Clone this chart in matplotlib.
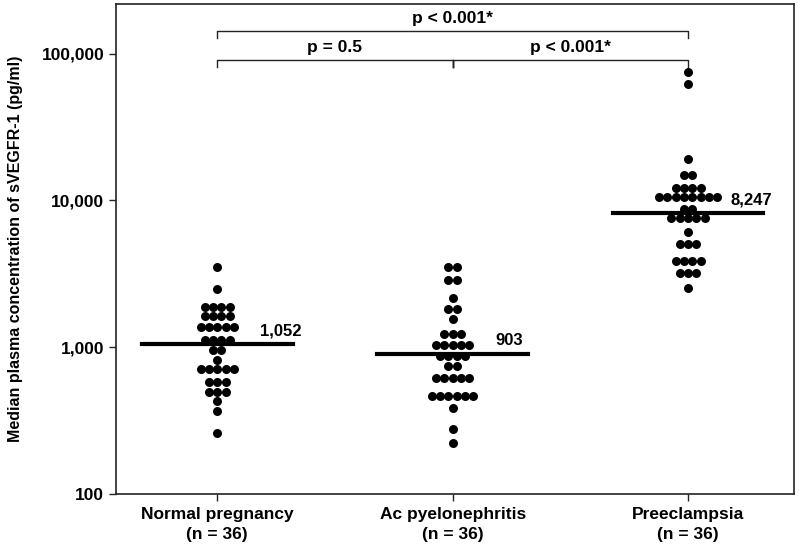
import matplotlib.pyplot as plt
import numpy as np
from matplotlib.transforms import blended_transform_factory

plt.rcParams['font.family'] = ['Liberation Sans', 'DejaVu Sans']
plt.rcParams['font.weight'] = 'bold'

# Grupos e valores (pg/ml)
groups = ['Normal pregnancy\n(n = 36)', 'Ac pyelonephritis\n(n = 36)', 'Preeclampsia\n(n = 36)']

normal = [3540, 2490,
          1890, 1890, 1890, 1890,
          1620, 1620, 1620, 1620,
          1370, 1370, 1370, 1370, 1370,
          1120, 1120, 1120, 1120,
          960, 960,
          820,
          710, 710, 710, 710, 710,
          583, 583, 583,
          498, 498, 498,
          432, 366, 262]

pyelo = [3540, 3540,
         2880, 2880,
         2180,
         1820, 1820,
         1550,
         1230, 1230, 1230,
         1040, 1040, 1040, 1040, 1040,
         872, 872, 872, 872,
         746, 746,
         620, 620, 620, 620, 620,
         468, 468, 468, 468, 468, 468,
         386, 276, 222]

preecl = [74900, 62100, 19100,
          14900, 14900,
          12250, 12250, 12250, 12250,
          10630, 10630, 10630, 10630, 10630, 10630, 10630, 10630,
          8720, 8720,
          7570, 7570, 7570, 7570, 7570,
          6140,
          5060, 5060, 5060,
          3890, 3890, 3890, 3890,
          3225, 3225, 3225,
          2525]

medians = [1052, 903, 8247]
median_labels = ['1,052', '903', '8,247']

# p-valores: (x1, x2, texto, nível)
comparisons = [(0, 2, 'p < 0.001*', 0.945),
               (0, 1, 'p = 0.5', 0.886),
               (1, 2, 'p < 0.001*', 0.886)]

fig = plt.figure(figsize=(8, 5.46), dpi=100)
ax = fig.add_axes([0.145, 0.0952, 0.8475, 0.8975])

ax.set_yscale('log')
ax.set_ylim(100, 218000)
ax.set_xlim(-0.43, 2.45)

dx = 0.0353  # espaçamento horizontal entre pontos da mesma linha
for i, vals in enumerate([normal, pyelo, preecl]):
    vals = np.array(vals)
    for v in np.unique(vals):
        n = np.sum(vals == v)
        xs = i + (np.arange(n) - (n - 1) / 2) * dx
        ax.scatter(xs, [v] * n, s=42, color='black', zorder=3, linewidths=0)
    ax.plot([i - 0.32, i + 0.32], [medians[i], medians[i]], color='black', lw=3.0, zorder=4)
    ax.annotate(median_labels[i], (i + 0.18, medians[i]), xytext=(0, 4),
                textcoords='offset points', fontsize=12, fontweight='bold',
                ha='left', va='bottom')

# Colchetes de significância
trans = blended_transform_factory(ax.transData, ax.transAxes)
for x1, x2, txt, lev in comparisons:
    ax.plot([x1, x1, x2, x2], [lev - 0.015, lev, lev, lev - 0.015], color='#222222',
            lw=1.0, transform=trans, clip_on=False)
    ax.text((x1 + x2) / 2, lev + 0.010, txt, transform=trans, ha='center', va='bottom',
            fontsize=12.5, fontweight='bold')
ax.plot([1, 1], [0.886 - 0.015, 0.886], color='#222222', lw=1.0, transform=trans)

ax.set_yticks([100, 1000, 10000, 100000])
ax.set_yticklabels(['100', '1,000', '10,000', '100,000'])
ax.minorticks_off()
ax.set_xticks([0, 1, 2])
ax.set_xticklabels(groups, linespacing=1.45)
ax.tick_params(axis='both', labelsize=12.5, length=5, width=1.0, color='#222222')
ax.tick_params(axis='x', pad=4)
for sp in ax.spines.values():
    sp.set_linewidth(1.2)
    sp.set_color('#222222')

ax.set_ylabel('Median plasma concentration of sVEGFR-1 (pg/ml)', fontsize=11.5,
              fontweight='bold')
ax.yaxis.set_label_coords(-0.137, 0.5)

fig.savefig('out.png', dpi=100)
